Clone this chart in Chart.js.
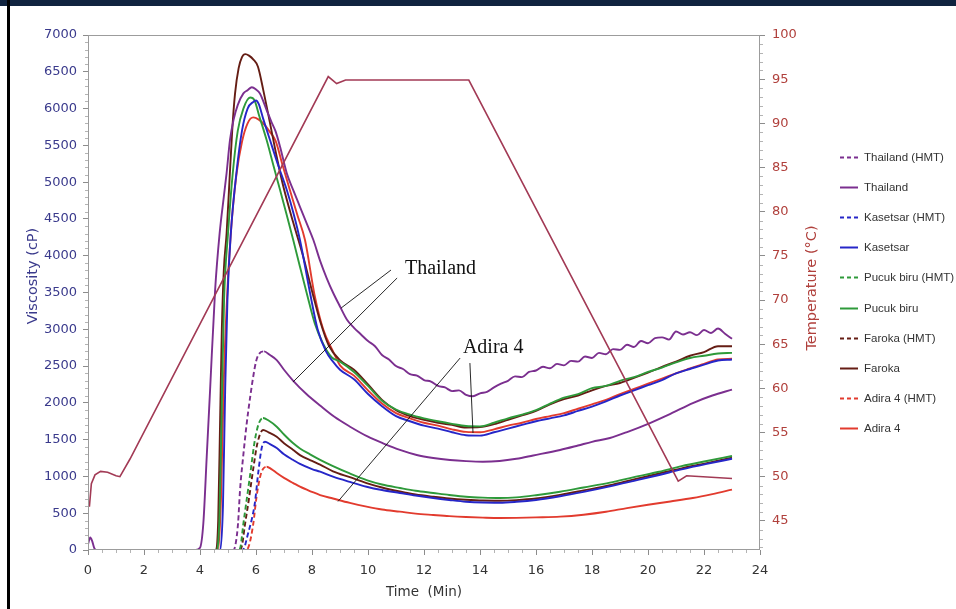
<!DOCTYPE html>
<html>
<head>
<meta charset="utf-8">
<script src="https://cdn.jsdelivr.net/npm/chart.js@4.4.1/dist/chart.umd.min.js"></script>
<style>
  html, body { margin: 0; padding: 0; background: #fff; }
  #wrap { position: relative; width: 956px; height: 609px; overflow: hidden; }
  #topbar { position: absolute; left: 0; top: 0; width: 956px; height: 6px; background: #10233f; }
  #edge { position: absolute; left: 7px; top: 0; width: 3px; height: 609px; background: #000; }
  canvas { position: absolute; left: 0; top: 0; }
</style>
</head>
<body>
<div id="wrap">
  <canvas id="chart" width="956" height="609"></canvas>
  <div id="topbar"></div>
  <div id="edge"></div>
</div>
<script>
// ---- data (time in min, viscosity in cP, temperature in °C) ----
const seriesLabels = ['Thailand (HMT)', 'Thailand', 'Kasetsar (HMT)', 'Kasetsar', 'Pucuk biru (HMT)',
                      'Pucuk biru', 'Faroka (HMT)', 'Faroka', 'Adira 4 (HMT)', 'Adira 4'];

// shared time grid for the tails of the native curves
const tailTime = [9, 9.5, 10, 10.5, 11, 11.5, 12, 12.5, 13, 13.5, 14, 14.5, 15, 15.5, 16, 16.5,
                  17, 17.5, 18, 18.5, 19, 19.5, 20, 20.5, 21, 21.5, 22, 22.5, 23];

// Thailand
const thaiHeadTime = [0, 0.08, 0.15, 0.22, 0.3, 3.85, 4.0, 4.12, 4.24, 4.36, 4.54, 4.7, 4.85, 4.95, 5.07, 5.2,
                      5.35, 5.55, 5.7, 5.85, 6.0, 6.14, 6.38, 6.55, 6.7, 6.86, 7.1, 7.33, 7.57, 7.81, 8.05,
                      8.29, 8.52, 8.75];
const thaiHeadVisc = [80, 170, 120, 30, 0, 0, 30, 367, 1268, 2174, 3534, 4300, 4800, 5123, 5572, 5850,
                      6050, 6206, 6250, 6290, 6260, 6206, 5980, 5820, 5690, 5481, 5119, 4892, 4665, 4440, 4213,
                      3930, 3700, 3500];
const thaiTailTime = [9, 9.25, 9.5, 9.75, 10, 10.25, 10.5, 10.75, 11, 11.25, 11.5, 11.75, 12, 12.25, 12.5, 12.75,
                      13, 13.25, 13.5, 13.75, 14, 14.25, 14.5, 14.75, 15, 15.25, 15.5, 15.75, 16, 16.25, 16.5,
                      16.75, 17, 17.25, 17.5, 17.75, 18, 18.25, 18.5, 18.75, 19, 19.25, 19.5, 19.75, 20, 20.25,
                      20.5, 20.75, 21, 21.25, 21.5, 21.75, 22, 22.25, 22.5, 22.75, 23];
const thaiTailVisc = [3310, 3130, 3020, 2930, 2840, 2770, 2650, 2590, 2500, 2460, 2390, 2370, 2310, 2290, 2230, 2210,
                      2160, 2170, 2110, 2090, 2130, 2150, 2210, 2260, 2300, 2360, 2350, 2420, 2440, 2490, 2470,
                      2530, 2510, 2570, 2560, 2630, 2610, 2680, 2660, 2730, 2720, 2790, 2760, 2840, 2810, 2880,
                      2890, 2860, 2970, 2930, 2960, 2920, 2990, 2950, 3010, 2940, 2870];
const thaiHmtTime = [0, 5.2, 5.28, 5.36, 5.43, 5.55, 5.67, 5.8, 5.9, 6.0, 6.1, 6.29, 6.5, 6.74, 7.0, 7.33, 7.8,
                     8.3, 8.8, 9.36, 10.0, 10.54, 11.14, 11.74, 12.33, 12.93, 13.5, 14.1, 14.7, 15.3, 15.9,
                     16.86, 17.5, 18.0, 18.64, 19.3, 20.07, 20.8, 21.6, 22.3, 23.0];
const thaiHmtVisc = [0, 0, 100, 367, 815, 1300, 1726, 2100, 2355, 2560, 2660, 2700, 2650, 2582, 2450, 2300, 2120,
                     1960, 1810, 1676, 1540, 1450, 1360, 1291, 1250, 1223, 1208, 1200, 1210, 1240, 1285,
                     1359, 1420, 1470, 1522, 1610, 1726, 1850, 1998, 2100, 2180];

// Kasetsar
const kasetHeadTime = [0, 4.72, 4.82, 4.9, 4.98, 5.1, 5.3, 5.5, 5.7, 5.9, 6.0, 6.1, 6.25, 6.5, 6.8, 7.1, 7.35,
                       7.57, 7.93, 8.2, 8.5, 8.75];
const kasetHeadVisc = [0, 0, 600, 2200, 3400, 4300, 5123, 5700, 6000, 6090, 6110, 6060, 5870, 5572, 5220, 4892,
                       4560, 4213, 3493, 3000, 2700, 2560];
const kasetTailVisc = [2450, 2320, 2120, 1955, 1820, 1750, 1690, 1650, 1600, 1560, 1555, 1600, 1650, 1700, 1750,
                       1790, 1830, 1890, 1950, 2020, 2100, 2170, 2240, 2310, 2400, 2460, 2520, 2575, 2590];
const kasetHmtTime = [0, 5.5, 5.58, 5.7, 5.85, 5.96, 6.08, 6.2, 6.32, 6.5, 6.74, 7.0, 7.33, 7.57, 8.0, 8.29, 8.75,
                      9.35, 9.95, 10.5, 11.14, 11.7, 12.33, 12.9, 13.5, 14.1, 14.7, 15.3, 16.0, 16.86, 17.7,
                      18.64, 19.5, 20.4, 21.2, 22.1, 23.0];
const kasetHmtVisc = [0, 0, 30, 200, 420, 640, 1050, 1380, 1472, 1440, 1386, 1300, 1223, 1170, 1100, 1064, 996,
                      925, 860, 815, 775, 740, 706, 680, 656, 645, 643, 655, 680, 730, 790,
                      865, 940, 1020, 1095, 1170, 1240];

// Pucuk biru
const pucukHeadTime = [0, 4.6, 4.7, 4.78, 4.86, 5.0, 5.17, 5.35, 5.55, 5.79, 5.95, 6.1, 6.38, 6.62, 6.86, 7.1,
                       7.33, 7.57, 7.81, 8.1, 8.4, 8.7];
const pucukHeadVisc = [0, 0, 500, 2000, 3400, 4300, 5123, 5700, 6000, 6150, 6110, 5920, 5572, 5230, 4892, 4550,
                       4213, 3850, 3493, 3080, 2800, 2620];
const pucukTailVisc = [2560, 2420, 2230, 2030, 1910, 1840, 1790, 1750, 1715, 1685, 1680, 1730, 1790, 1840, 1900,
                       1990, 2070, 2120, 2200, 2230, 2300, 2350, 2420, 2480, 2550, 2610, 2640, 2670, 2680];
const pucukHmtTime = [0, 5.38, 5.45, 5.54, 5.67, 5.79, 5.96, 6.1, 6.25, 6.45, 6.74, 7.0, 7.33, 7.57, 7.93, 8.29,
                      8.75, 9.35, 9.95, 10.5, 11.14, 11.7, 12.33, 12.9, 13.5, 14.1, 14.7, 15.3, 16.0, 16.86,
                      17.7, 18.64, 19.5, 20.4, 21.2, 22.1, 23.0];
const pucukHmtVisc = [0, 0, 50, 330, 690, 1020, 1495, 1720, 1794, 1760, 1676, 1570, 1450, 1380, 1300, 1225,
                      1140, 1040, 951, 890, 843, 805, 775, 748, 724, 712, 706, 715, 745, 792,
                      850, 915, 990, 1064, 1140, 1210, 1277];

// Faroka
const farokaHeadTime = [0, 4.55, 4.65, 4.72, 4.78, 4.85, 4.95, 5.05, 5.15, 5.25, 5.38, 5.5, 5.62, 5.75, 5.9,
                        6.07, 6.26, 6.5, 6.74, 6.97, 7.33, 7.69, 7.99, 8.3, 8.6];
const farokaHeadVisc = [0, 0, 400, 1800, 3000, 3800, 4300, 5000, 5700, 6200, 6550, 6700, 6740, 6720, 6670,
                        6568, 6251, 5803, 5345, 4950, 4450, 3982, 3534, 3100, 2780];
const farokaTailVisc = [2580, 2450, 2250, 2040, 1900, 1820, 1770, 1730, 1700, 1665, 1670, 1710, 1770, 1830, 1890,
                        1980, 2050, 2100, 2170, 2230, 2270, 2340, 2410, 2490, 2560, 2640, 2690, 2770, 2770];
const farokaHmtTime = [0, 5.42, 5.5, 5.6, 5.75, 5.9, 6.05, 6.25, 6.45, 6.74, 7.0, 7.33, 7.57, 8.0, 8.29, 8.75,
                       9.35, 9.95, 10.5, 11.14, 11.7, 12.33, 12.9, 13.5, 14.1, 14.7, 15.3, 16.0, 16.86, 17.7,
                       18.64, 19.5, 20.4, 21.2, 22.1, 23.0];
const farokaHmtVisc = [0, 0, 60, 330, 700, 1100, 1450, 1631, 1600, 1540, 1450, 1360, 1290, 1210, 1160, 1070,
                       990, 910, 850, 795, 755, 724, 700, 683, 672, 670, 678, 700, 750, 810,
                       880, 960, 1040, 1110, 1180, 1255];

// Adira 4
const adiraHeadTime = [0, 4.65, 4.75, 4.85, 4.95, 5.1, 5.3, 5.5, 5.7, 5.9, 6.1, 6.3, 6.5, 6.7, 6.95, 7.21, 7.48,
                       7.75, 8.1, 8.4, 8.75];
const adiraHeadVisc = [0, 0, 700, 2300, 3300, 4300, 5100, 5550, 5800, 5880, 5850, 5780, 5680, 5560, 5230, 4892,
                       4550, 4213, 3450, 3000, 2700];
const adiraTailVisc = [2510, 2370, 2170, 1990, 1860, 1790, 1730, 1690, 1640, 1605, 1600, 1640, 1690, 1730, 1780,
                       1820, 1860, 1920, 1980, 2040, 2120, 2190, 2260, 2330, 2400, 2470, 2530, 2590, 2600];
const adiraHmtTime = [0, 5.65, 5.75, 5.9, 6.02, 6.15, 6.25, 6.38, 6.55, 6.74, 7.0, 7.33, 7.57, 8.0, 8.29, 8.75,
                      9.35, 9.95, 10.5, 11.14, 11.7, 12.33, 12.9, 13.5, 14.1, 14.7, 15.3, 16.0, 16.86, 17.7,
                      18.5, 19.25, 20.0, 20.8, 21.6, 22.3, 23.0];
const adiraHmtVisc = [0, 0, 60, 350, 724, 1000, 1100, 1132, 1100, 1046, 980, 910, 860, 790, 747, 700,
                      640, 589, 550, 521, 495, 476, 460, 448, 440, 435, 437, 443, 453, 480,
                      520, 570, 615, 660, 707, 760, 820];

// temperature profile (right axis)
const tempTime = [0.05, 0.12, 0.25, 0.45, 0.7, 1.0, 1.14, 1.5, 1.86, 8.58, 8.88, 9.2, 13.6, 21.08, 21.38, 23.0];
const tempValue = [46.6, 49.2, 50.2, 50.6, 50.5, 50.1, 50.0, 52.0, 54.2, 95.3, 94.5, 94.9, 94.9, 49.5, 50.1, 49.8];

// ---- styling ----
const seriesColors = ['#7b2f8f', '#7b2f8f', '#2626c8', '#2626c8', '#2e9a3a', '#2e9a3a',
                      '#651d14', '#651d14', '#e23b2e', '#e23b2e'];
const tempColor = '#a23a55';
const HMT_DASH = [5, 3];

function pts(times, values) {
  return times.map((t, i) => ({ x: t, y: values[i] }));
}

const seriesData = [
  pts(thaiHmtTime, thaiHmtVisc),
  pts(thaiHeadTime.concat(thaiTailTime), thaiHeadVisc.concat(thaiTailVisc)),
  pts(kasetHmtTime, kasetHmtVisc),
  pts(kasetHeadTime.concat(tailTime), kasetHeadVisc.concat(kasetTailVisc)),
  pts(pucukHmtTime, pucukHmtVisc),
  pts(pucukHeadTime.concat(tailTime), pucukHeadVisc.concat(pucukTailVisc)),
  pts(farokaHmtTime, farokaHmtVisc),
  pts(farokaHeadTime.concat(tailTime), farokaHeadVisc.concat(farokaTailVisc)),
  pts(adiraHmtTime, adiraHmtVisc),
  pts(adiraHeadTime.concat(tailTime), adiraHeadVisc.concat(adiraTailVisc))
];

const datasets = [{
  label: 'Temperature',
  data: pts(tempTime, tempValue),
  yAxisID: 'y2',
  borderColor: tempColor,
  borderWidth: 1.6,
  tension: 0
}];

seriesLabels.forEach((label, i) => {
  const hmt = label.indexOf('HMT') >= 0;
  const data = seriesData[i];
  // the HMT traces are dashed only while rising to their peak
  const peakX = data.reduce((m, p) => (p.y > m.y ? p : m), data[0]).x;
  datasets.push({
    label: label,
    data: data,
    yAxisID: 'y',
    borderColor: seriesColors[i],
    borderWidth: 1.9,
    borderDash: [],
    cubicInterpolationMode: 'monotone',
    segment: hmt ? { borderDash: c => (c.p1.parsed.x <= peakX + 0.01 ? HMT_DASH : undefined) } : undefined,
    isHmt: hmt
  });
});

// text callouts, in data units of time / viscosity
const notes = [
  { text: 'Thailand', at: [11.32, 3820], lines: [[[10.82, 3805], [9.04, 3289]], [[11.04, 3697], [7.32, 2283]]] },
  { text: 'Adira 4', at: [13.39, 2745], lines: [[[13.29, 2609], [8.93, 660]], [[13.64, 2541], [13.75, 1590]]] }
];

const tickFont = { family: 'DejaVu Sans', size: 13 };
const gridTicks = { drawOnChartArea: false, tickLength: 5, color: '#8c8c8c' };
const plainNumber = v => String(v);

const decor = {
  id: 'decor',
  afterDraw(chart) {
    const { ctx, chartArea: a, scales } = chart;
    const x = scales.x, y = scales.y, y2 = scales.y2;
    ctx.save();

    // plot frame
    ctx.strokeStyle = '#9c9c9c';
    ctx.lineWidth = 1;
    ctx.strokeRect(Math.round(a.left) + 0.5, Math.round(a.top) + 0.5,
                   Math.round(a.right - a.left) - 1, Math.round(a.bottom - a.top) - 1);

    // minor ticks
    ctx.strokeStyle = '#b4b4b4';
    ctx.beginPath();
    for (let v = 100; v < 7000; v += 100) {
      if (v % 500 === 0) continue;
      const py = Math.round(y.getPixelForValue(v)) + 0.5;
      ctx.moveTo(a.left - 3, py); ctx.lineTo(a.left, py);
    }
    for (let v = 42; v < 100; v += 1) {
      if (v % 5 === 0) continue;
      const py = Math.round(y2.getPixelForValue(v)) + 0.5;
      ctx.moveTo(a.right, py); ctx.lineTo(a.right + 3, py);
    }
    for (let v = 0.5; v < 24; v += 0.5) {
      if (v % 2 === 0) continue;
      const px = Math.round(x.getPixelForValue(v)) + 0.5;
      ctx.moveTo(px, a.bottom); ctx.lineTo(px, a.bottom + 3);
    }
    ctx.stroke();

    // callouts
    ctx.strokeStyle = '#111';
    ctx.lineWidth = 0.9;
    ctx.fillStyle = '#111';
    ctx.font = '20px "Liberation Serif", "Times New Roman", serif';
    ctx.textBaseline = 'middle';
    ctx.textAlign = 'left';
    notes.forEach(n => {
      ctx.beginPath();
      n.lines.forEach(l => {
        ctx.moveTo(x.getPixelForValue(l[0][0]), y.getPixelForValue(l[0][1]));
        ctx.lineTo(x.getPixelForValue(l[1][0]), y.getPixelForValue(l[1][1]));
      });
      ctx.stroke();
      ctx.fillText(n.text, x.getPixelForValue(n.at[0]), y.getPixelForValue(n.at[1]));
    });

    // axis titles
    ctx.textAlign = 'center';
    ctx.font = '14.5px "DejaVu Sans", sans-serif';
    ctx.fillStyle = '#3a3a8c';
    ctx.save();
    ctx.translate(33, 276);
    ctx.rotate(-Math.PI / 2);
    ctx.fillText('Viscosity (cP)', 0, 0);
    ctx.restore();
    ctx.fillStyle = '#b0403c';
    ctx.save();
    ctx.translate(a.right + 52, 288);
    ctx.rotate(-Math.PI / 2);
    ctx.fillText('Temperature (\u00B0C)', 0, 0);
    ctx.restore();
    ctx.fillStyle = '#333';
    ctx.font = '13.5px "DejaVu Sans", sans-serif';
    ctx.fillText('Time  (Min)', (a.left + a.right) / 2, 592);

    // legend
    ctx.textAlign = 'left';
    ctx.font = '11.5px "Liberation Sans", Arial, sans-serif';
    const items = chart.data.datasets.filter(d => d.yAxisID === 'y');
    const gap = 30.2;
    const y0 = (a.top + a.bottom) / 2 - gap * (items.length - 1) / 2;
    items.forEach((d, i) => {
      const ly = Math.round(y0 + i * gap) + 0.5;
      ctx.strokeStyle = d.borderColor;
      ctx.lineWidth = 2;
      ctx.setLineDash(d.isHmt ? [4, 3] : []);
      ctx.beginPath();
      ctx.moveTo(840, ly); ctx.lineTo(858, ly);
      ctx.stroke();
      ctx.setLineDash([]);
      ctx.fillStyle = '#333';
      ctx.fillText(d.label, 864, ly);
    });
    ctx.restore();
  }
};

new Chart(document.getElementById('chart'), {
  type: 'line',
  data: { datasets: datasets },
  options: {
    responsive: false,
    animation: false,
    layout: { padding: { left: 0, top: 35, right: 0, bottom: 0 } },
    elements: { point: { radius: 0 } },
    plugins: { legend: { display: false }, tooltip: { enabled: false } },
    scales: {
      x: {
        type: 'linear', min: 0, max: 24,
        ticks: { stepSize: 2, color: '#333', font: tickFont, padding: 8, maxRotation: 0, callback: plainNumber },
        grid: gridTicks,
        border: { display: false },
        afterFit: s => { s.height = 59; }
      },
      y: {
        position: 'left', min: 0, max: 7000,
        ticks: { stepSize: 500, color: '#3a3a8c', font: tickFont, padding: 6, callback: plainNumber },
        grid: gridTicks,
        border: { display: false },
        afterFit: s => { s.width = 88; }
      },
      y2: {
        position: 'right', min: 41.7, max: 100,
        ticks: { stepSize: 5, includeBounds: false, color: '#b0403c', font: tickFont, padding: 7, callback: plainNumber },
        grid: gridTicks,
        border: { display: false },
        afterFit: s => { s.width = 196; }
      }
    }
  },
  plugins: [decor]
});
</script>
</body>
</html>
